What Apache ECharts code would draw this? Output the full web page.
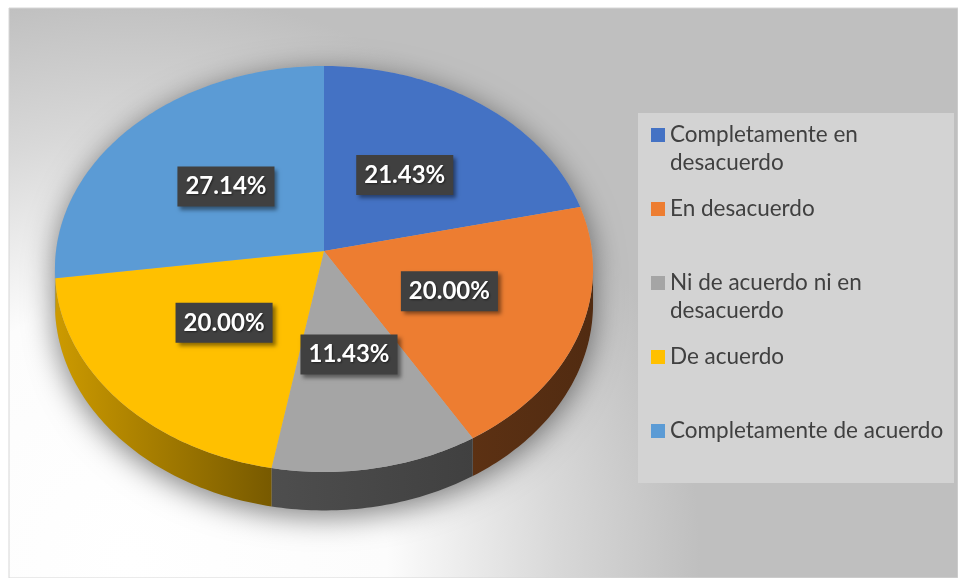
<!DOCTYPE html>
<html>
<head>
<meta charset="utf-8">
<title>Pie 3D</title>
<script src="https://cdn.jsdelivr.net/npm/echarts@6/dist/echarts.min.js"></script>
<style>
  html, body { margin: 0; padding: 0; background: #fff; }
  #main { width: 958px; height: 578px; }
</style>
</head>
<body>
<div id="main"></div>
<script>
var categories = [
  'Completamente en desacuerdo',
  'En desacuerdo',
  'Ni de acuerdo ni en desacuerdo',
  'De acuerdo',
  'Completamente de acuerdo'
]
var percentages = [21.43, 20.00, 11.43, 20.00, 27.14]
// legend text as wrapped in the original (every entry takes two lines)
var legendLabels = [
  'Completamente en\ndesacuerdo',
  'En desacuerdo\n ',
  'Ni de acuerdo ni en\ndesacuerdo',
  'De acuerdo\n ',
  'Completamente de acuerdo\n '
]
var colors = ['#4472C4', '#ED7D31', '#A5A5A5', '#FFC000', '#5B9BD5']

// tilted pie geometry, px
var pie = { cx: 324, cy: 251, rx: 268, ry: 201.4, persp: 0.0887, depth: 35 }

var total = percentages.reduce(function (a, b) { return a + b }, 0)
var visFrom = Math.acos(-pie.persp)
var visTo = Math.PI * 2 - visFrom

function angleAt (k) {
  var s = 0
  for (var i = 0; i < k; i++) s += percentages[i]
  return s / total * Math.PI * 2
}

function project (theta, f, down) {
  var X = Math.sin(theta) * f
  var Z = Math.cos(theta) * f
  var den = 1 + pie.persp * Z
  return [pie.cx + pie.rx * X / den, pie.cy - pie.ry * Z / den + (down ? pie.depth / den : 0)]
}

function arc (a0, a1, down) {
  var pts = []
  var n = Math.max(2, Math.ceil((a1 - a0) / (Math.PI / 180)))
  for (var i = 0; i <= n; i++) {
    pts.push(project(a0 + (a1 - a0) * i / n, 1, down))
  }
  return pts
}

function shade (hex, f) {
  var r = parseInt(hex.slice(1, 3), 16)
  var g = parseInt(hex.slice(3, 5), 16)
  var b = parseInt(hex.slice(5, 7), 16)
  return 'rgb(' + Math.round(r * f) + ',' + Math.round(g * f) + ',' + Math.round(b * f) + ')'
}

function wallFill (color) {
  return {
    type: 'linear', global: true,
    x: pie.cx - pie.rx, y: 0, x2: pie.cx + pie.rx, y2: 0,
    colorStops: [
      { offset: 0, color: shade(color, 0.8) },
      { offset: 0.4, color: shade(color, 0.47) },
      { offset: 1, color: shade(color, 0.34) }
    ]
  }
}

function renderShadow () {
  var pts = arc(visTo, visFrom + Math.PI * 2, false).concat(arc(visFrom, visTo, true))
  return {
    type: 'polygon',
    shape: { points: pts },
    style: {
      fill: '#b0b0b0',
      shadowBlur: 30,
      shadowColor: 'rgba(0,0,0,0.5)',
      shadowOffsetY: 6
    },
    silent: true
  }
}

function renderWall (params) {
  var k = params.dataIndex
  var a0 = Math.max(angleAt(k), visFrom)
  var a1 = Math.min(angleAt(k + 1), visTo)
  if (a1 <= a0) return null
  var pts = arc(a0, a1, false).concat(arc(a0, a1, true).reverse())
  return {
    type: 'polygon',
    shape: { points: pts },
    style: { fill: wallFill(colors[k]) },
    silent: true
  }
}

function topRenderer (k) {
  return function (params, api) {
    var a0 = angleAt(k)
    var a1 = angleAt(k + 1)
    var pts = [project(0, 0, false)].concat(arc(a0, a1, false))
    var mid = project((a0 + a1) / 2, 0.5, false)
    return {
      type: 'group',
      children: [{
        type: 'polygon',
        shape: { points: pts },
        style: { fill: colors[k] }
      }, {
        type: 'text',
        x: mid[0],
        y: mid[1],
        z2: 100,
        style: {
          text: api.value(0).toFixed(2) + '%',
          fill: '#fff',
          fontFamily: 'Lato',
          fontWeight: 'bold',
          fontSize: 24,
          lineHeight: 24,
          align: 'center',
          verticalAlign: 'middle',
          backgroundColor: '#404040',
          padding: [8, 8, 8, 8],
          shadowColor: 'rgba(0,0,0,0.45)',
          shadowBlur: 4,
          shadowOffsetX: 3,
          shadowOffsetY: 3,
          textShadowColor: 'rgba(0,0,0,0.5)',
          textShadowBlur: 2,
          textShadowOffsetX: 1,
          textShadowOffsetY: 1
        }
      }]
    }
  }
}

var series = [{
  name: 'shadow',
  type: 'custom',
  coordinateSystem: 'none',
  z: 1,
  silent: true,
  data: [[0]],
  renderItem: renderShadow
}, {
  name: 'walls',
  type: 'custom',
  coordinateSystem: 'none',
  z: 2,
  silent: true,
  data: percentages.map(function (v) { return [v] }),
  renderItem: renderWall
}]
categories.forEach(function (name, k) {
  series.push({
    name: name,
    type: 'custom',
    coordinateSystem: 'none',
    z: 3,
    itemStyle: { color: colors[k] },
    data: [[percentages[k]]],
    renderItem: topRenderer(k)
  })
})

var chart = echarts.init(document.getElementById('main'))
chart.setOption({
  animation: false,
  backgroundColor: '#fff',
  graphic: [{
    type: 'rect',
    z: -10,
    silent: true,
    shape: { x: 9, y: 8, width: 949, height: 570 },
    style: {
      fill: {
        type: 'radial', global: true, x: 130, y: 560, r: 570,
        colorStops: [
          { offset: 0, color: '#ffffff' },
          { offset: 0.45, color: '#fcfcfc' },
          { offset: 0.75, color: '#d8d8d8' },
          { offset: 1, color: '#bfbfbf' }
        ]
      },
      stroke: '#d6d6d6',
      lineWidth: 1
    }
  }, {
    type: 'rect',
    z: -5,
    silent: true,
    shape: { x: 638, y: 113, width: 316, height: 370 },
    style: { fill: '#d3d3d3' }
  }],
  legend: {
    orient: 'vertical',
    left: 651,
    top: 121,
    padding: 0,
    itemGap: 18,
    itemWidth: 14,
    itemHeight: 56,
    selectedMode: false,
    icon: 'path://M0 0L0.01 0M0 7L14 7L14 21L0 21ZM14 56L13.99 56',
    data: categories,
    formatter: function (name) {
      return legendLabels[categories.indexOf(name)]
    },
    textStyle: {
      fontFamily: 'Lato',
      fontSize: 22.5,
      lineHeight: 28,
      color: '#404040'
    }
  },
  series: series
})
</script>
</body>
</html>
